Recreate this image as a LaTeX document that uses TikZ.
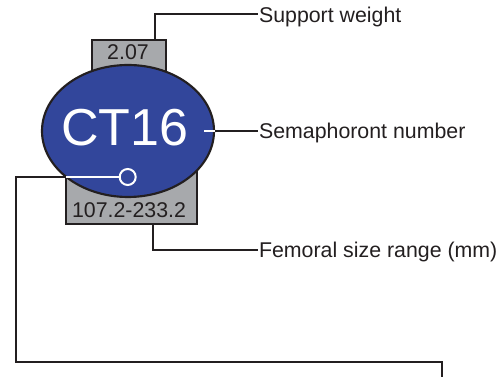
\documentclass[tikz,border=0pt]{standalone}
\usepackage{fontspec}
\setmainfont{Liberation Sans}
\usetikzlibrary{shapes.geometric}
\definecolor{semablue}{RGB}{50,70,155}
\definecolor{boxgray}{RGB}{167,169,172}
\definecolor{ink}{RGB}{35,31,32}
\begin{document}
\begin{tikzpicture}[x=0.75pt,y=-0.75pt,
  valbox/.style={draw=ink,fill=boxgray,line width=1.5pt,inner sep=0pt,anchor=north west},
  lead/.style={draw=ink,line width=1.5pt},
  wlead/.style={draw=white,line width=1.5pt},
  lbl/.style={anchor=west,inner sep=0.6pt,text=ink,font=\fontsize{16}{19}\selectfont,
    text height=11.4pt,text depth=0pt},
  val/.style={inner sep=0pt,text=ink,font=\fontsize{16}{19}\selectfont}]
\useasboundingbox (0,0) rectangle (501,377);
% grey value boxes, half hidden by the ellipse
\node[valbox,minimum width=55.5pt,minimum height=45.75pt] (wbox) at (91,39) {};
\node[valbox,minimum width=98.25pt,minimum height=47.25pt] (sbox) at (65,160) {};
\node[ellipse,draw=ink,fill=semablue,line width=1.6pt,minimum width=129pt,
  minimum height=99pt,inner sep=0pt] (sema) at (128,131) {};
\node[circle,draw=white,line width=1.5pt,minimum size=12pt,inner sep=0pt] (knob) at (127.7,177) {};
\node[inner sep=0pt,text=white,font=\fontsize{39}{44}\selectfont] (ct) at (125,128) {CT16};
\node[val] (wval) at (128,52.5) {2.07};
\node[val] (sval) at (129,210.5) {107.2-233.2};
% labels on the right
\node[lbl] (wt) at (258,14.5) {Support weight};
\node[lbl] (num) at (258,131) {Semaphoront number};
\node[lbl] (rng) at (258,250) {Femoral size range (mm)};
% leaders
\coordinate (wtip) at (155,39);
\coordinate (stip) at (204,131);
\coordinate (rtip) at (153,223);
\coordinate (kl) at (65.5,177);
\coordinate (exit) at (442,380);
\draw[lead] (wtip) |- (wt.west);
\draw[wlead] (stip) -- (sema.east);
\draw[lead] (sema.east) -- (num.west);
\draw[lead] (rtip) |- (rng.west);
\draw[wlead] (knob.west) -- (kl);
\draw[lead] (kl) -| (16,362) -| (exit);
\end{tikzpicture}
\end{document}
